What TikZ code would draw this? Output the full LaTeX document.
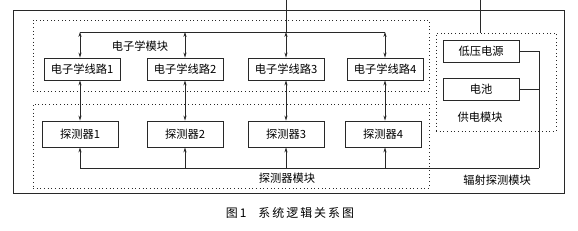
\documentclass[tikz,border=0pt]{standalone}
\usepackage{fontspec}
\usepackage{xcolor}
\usepackage{tikz}
\usetikzlibrary{arrows.meta, positioning, calc}
\newfontfamily\cjk{Noto Sans CJK SC}
\definecolor{lineblack}{RGB}{40, 40, 40}

\tikzset{
  unitbox/.style={draw=lineblack, line width=0.6pt, minimum width=1.9cm,
                  minimum height=0.55cm, inner sep=1pt},
  module/.style={draw=lineblack, dotted, line width=0.6pt, inner sep=0pt},
  link/.style={lineblack, line width=0.5pt},
  tip/.style={-{Stealth[length=3.5pt, width=2.2pt]}},
  tips/.style={{Stealth[length=3.5pt, width=2.2pt]}-{Stealth[length=3.5pt, width=2.2pt]}}
}

\begin{document}
\begin{tikzpicture}[x=0.025cm, y=-0.025cm,
                    font=\cjk\fontsize{8}{9}\selectfont]
    \useasboundingbox (0,0) rectangle (578,230);

    % outer frame and the three modules
    \draw[lineblack, line width=0.7pt] (13,10) rectangle (564,193);
    \node[module, minimum width=9.9cm, minimum height=1.775cm] (elemod) at (231,55.5) {};
    \node[module, minimum width=9.9cm, minimum height=2.1cm] (detmod) at (231,146) {};
    \node[module, minimum width=3cm, minimum height=2.45cm] (pwrmod) at (496,82) {};

    \node at (140,46) {电子学模块};
    \node at (287,178) {探测器模块};
    \node at (480,117) {供电模块};
    \node at (497,180) {辐射探测模块};

    % electronics
    \node[unitbox] (ele1) at (82,69) {电子学线路1};
    \node[unitbox] (ele2) at (185,69) {电子学线路2};
    \node[unitbox] (ele3) at (286,69) {电子学线路3};
    \node[unitbox] (ele4) at (385,69) {电子学线路4};

    % detectors
    \node[unitbox, minimum height=0.65cm] (det1) at (80,134) {探测器1};
    \node[unitbox, minimum height=0.65cm] (det2) at (185,134) {探测器2};
    \node[unitbox, minimum height=0.65cm] (det3) at (286,134) {探测器3};
    \node[unitbox, minimum height=0.65cm] (det4) at (383,134) {探测器4};

    % power supply
    \node[unitbox] (lv) at (481,51) {低压电源};
    \node[unitbox] (bat) at (481,89) {电池};

    % buses
    \coordinate (top3) at (286,0);
    \coordinate (top5) at (480,0);
    \coordinate (busT1) at (80,32);
    \coordinate (busT2) at (185,32);
    \coordinate (busT3) at (286,32);
    \coordinate (busT4) at (385,32);
    \coordinate (busB1) at (80,168);
    \coordinate (busB2) at (185,168);
    \coordinate (busB3) at (286,168);
    \coordinate (busB4) at (385,168);
    \coordinate (corner) at (539,168);

    \draw[link] (top3) -- (busT3);
    \draw[link] (busT1) -- (busT4);
    \draw[link] (top5) -- (top5 |- pwrmod.north);

    \draw[link, tips] (busT1) -- (busT1 |- ele1.north);
    \draw[link, tips] (busT2) -- (ele2.north);
    \draw[link, tips] (busT3) -- (ele3.north);
    \draw[link, tips] (busT4) -- (ele4.north);

    \draw[link, tips] (ele1.south -| busT1) -- (det1.north -| busT1);
    \draw[link, tips] (ele2) -- (det2);
    \draw[link, tips] (ele3) -- (det3);
    \draw[link, tips] (ele4.south -| busT4) -- (det4.north -| busT4);

    \draw[link] (busB1) -- (corner);
    \draw[link, tip] (busB1) -- (det1);
    \draw[link, tip] (busB2) -- (det2);
    \draw[link, tip] (busB3) -- (det3);
    \draw[link, tip] (busB4) -- (busB4 |- det4.south);

    \draw[link] (lv.east) -- (lv.east -| corner) -- (corner);
    \draw[link] (bat.east) -- (bat.east -| corner);

    \node[font=\cjk\fontsize{8.5}{10}\selectfont] (caption) at (290,213)
      {图\,1\quad 系\,统\,逻\,辑\,关\,系\,图};
\end{tikzpicture}
\end{document}
